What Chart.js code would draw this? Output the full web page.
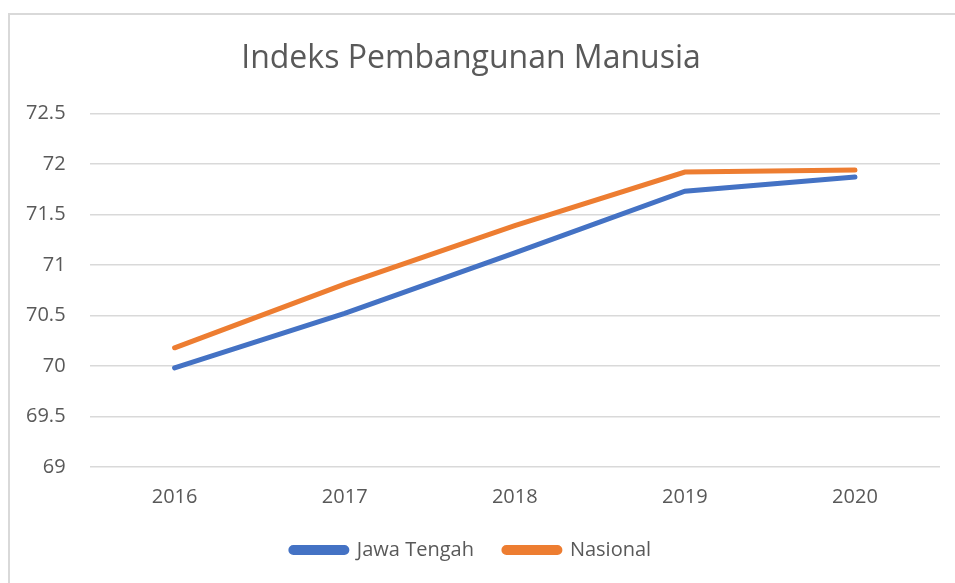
<!DOCTYPE html>
<html>
<head>
<meta charset="utf-8">
<script src="https://cdn.jsdelivr.net/npm/chart.js@4"></script>
<style>
  html, body { margin: 0; padding: 0; background: #fff; overflow: hidden; }
  #wrap { position: absolute; left: 0; top: 0; width: 955px; height: 583px; }
  #frame { position: absolute; left: 8px; top: 13px; width: 960px; height: 600px; border: 2px solid #d9d9d9; box-sizing: border-box; }
  canvas { position: absolute; left: 0; top: 0; }
</style>
</head>
<body>
<div id="wrap">
  <div id="frame"></div>
  <canvas id="myChart" width="955" height="583"></canvas>
</div>
<script>
var years = ["2016", "2017", "2018", "2019", "2020"];
var jawaTengah = [69.98, 70.52, 71.12, 71.73, 71.87];
var nasional = [70.18, 70.81, 71.39, 71.92, 71.94];

var font = "'Open Sans', sans-serif";
var textColor = "#595959";

var ctx = document.getElementById("myChart");
var myChart = new Chart(ctx, {
  type: 'line',
  data: {
    labels: years,
    datasets: [{
      label: "Jawa Tengah",
      data: jawaTengah,
      borderColor: "#4472C4",
      backgroundColor: "#4472C4",
      borderWidth: 5,
      pointRadius: 0,
      borderCapStyle: 'round',
      tension: 0
    }, {
      label: "Nasional",
      data: nasional,
      borderColor: "#ED7D31",
      backgroundColor: "#ED7D31",
      borderWidth: 5,
      pointRadius: 0,
      borderCapStyle: 'round',
      tension: 0
    }]
  },
  options: {
    responsive: false,
    animation: false,
    layout: { padding: { left: 2, right: 15, top: 40, bottom: 13 } },
    plugins: {
      title: {
        display: true,
        text: "Indeks Pembangunan Manusia",
        color: textColor,
        font: { family: font, size: 32, weight: 'normal' },
        padding: { top: 0, bottom: 35 }
      },
      legend: {
        position: 'bottom',
        labels: {
          color: textColor,
          font: { family: font, size: 20 },
          boxWidth: 56,
          boxHeight: 5,
          useBorderRadius: true,
          borderRadius: 2.5,
          padding: 30
        }
      },
      tooltip: { enabled: false }
    },
    scales: {
      x: {
        offset: true,
        grid: { display: false, drawTicks: false },
        border: { display: false },
        ticks: { color: textColor, font: { family: font, size: 20 }, padding: 18 },
        // pull the legend up under the year labels
        afterFit: function (scale) { scale.height -= 17; }
      },
      y: {
        min: 69,
        max: 72.5,
        grid: { color: "#d9d9d9", lineWidth: 1.5, drawTicks: false },
        border: { display: false },
        ticks: {
          stepSize: 0.5,
          color: textColor,
          font: { family: font, size: 20 },
          padding: 24,
          callback: function (value) { return value; }
        }
      }
    }
  }
});
</script>
</body>
</html>
